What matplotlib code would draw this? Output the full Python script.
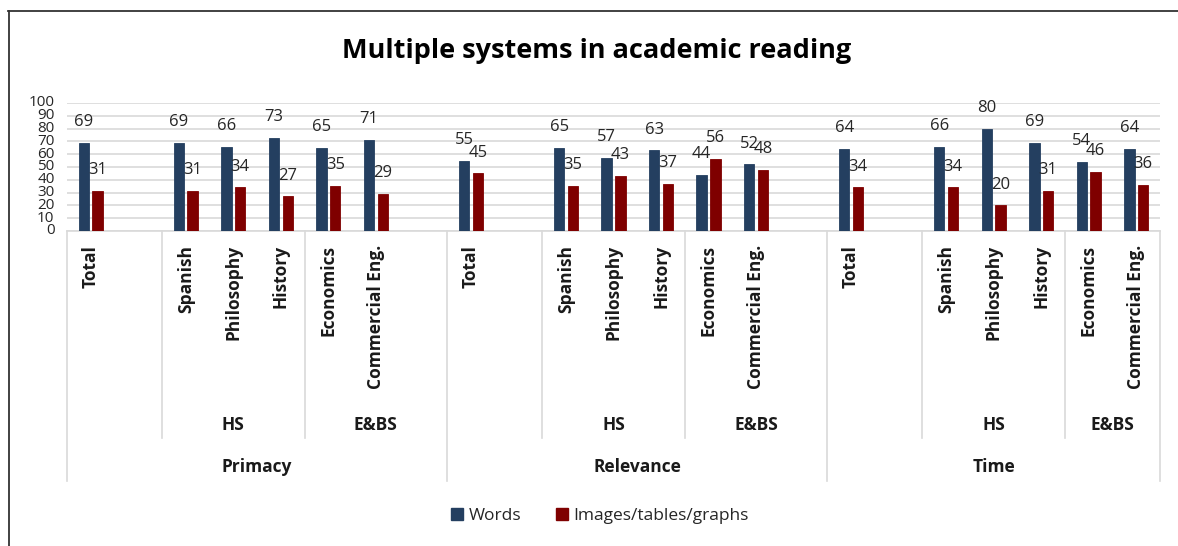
import matplotlib
matplotlib.use('Agg')
import matplotlib.pyplot as plt
import matplotlib.transforms as mtransforms
from matplotlib.lines import Line2D
from matplotlib.patches import Patch

plt.rcParams['font.family'] = ['Open Sans', 'DejaVu Sans']

# data
majors = ['Primacy', 'Relevance', 'Time']
subjects = ['Total', 'Spanish', 'Philosophy', 'History', 'Economics', 'Commercial Eng.']
subgroups = ['HS', 'E&BS']
words = {
    'Primacy':   [69, 69, 66, 73, 65, 71],
    'Relevance': [55, 65, 57, 63, 44, 52],
    'Time':      [64, 66, 80, 69, 54, 64],
}
images = {
    'Primacy':   [31, 31, 34, 27, 35, 29],
    'Relevance': [45, 35, 43, 37, 56, 48],
    'Time':      [34, 34, 20, 31, 46, 36],
}
yticks = list(range(0, 101, 10))

W, H = 1178, 546
fig = plt.figure(figsize=(W / 100, H / 100), dpi=100)

def fy(py):
    return 1 - py / H

x0, x1, ytop, ybot = 67, 1160, 103, 231
ax = fig.add_axes([x0 / W, fy(ybot), (x1 - x0) / W, (ybot - ytop) / H])

# slot layout: Total, blank, HS x3, E&BS x2 (+ blank except last group)
slots = [0, 2, 3, 4, 5, 6]
starts = [0, 8, 16]
nslots = 23
navy = '#243F60'
red = '#7F0000'
off, bw = 0.145, 0.22
txt = '#1a1a1a'

for g, m in enumerate(majors):
    for k, s in enumerate(slots):
        xc = starts[g] + s + 0.5
        for val, dx, col in [(words[m][k], -off, navy), (images[m][k], off, red)]:
            ax.bar(xc + dx, val, width=bw, color=col, edgecolor=col, linewidth=0.6, zorder=3)
            ax.annotate(str(val), (xc + dx, val), xytext=(0, 15), textcoords='offset points',
                        ha='center', va='center', fontsize=12, color='#262626', zorder=4)

ax.set_xlim(0, nslots)
ax.set_ylim(0, 100)
ax.set_yticks(yticks)
ax.set_xticks([])
ax.tick_params(axis='y', length=0, labelsize=11, labelcolor='#262626', pad=9)
for t in ax.get_yticklabels():
    t.set_verticalalignment('center')
ax.grid(axis='y', color='#D9D9D9', linewidth=1.2, zorder=0)
for sp in ax.spines.values():
    sp.set_visible(False)

# multi-level category axis
tr = mtransforms.blended_transform_factory(ax.transData, fig.transFigure)
gray = '#D9D9D9'
ax.add_line(Line2D([0, nslots], [fy(ybot), fy(ybot)], transform=tr, color=gray, lw=1.2, clip_on=False))
for b in [0, 8, 16, 23]:
    ax.add_line(Line2D([b, b], [fy(ybot), fy(481)], transform=tr, color=gray, lw=1.2, clip_on=False))
for b in [2, 5, 10, 13, 18, 21]:
    ax.add_line(Line2D([b, b], [fy(ybot), fy(438)], transform=tr, color=gray, lw=1.2, clip_on=False))

for g, m in enumerate(majors):
    for k, s in enumerate(slots):
        ax.text(starts[g] + s + 0.5, fy(245), subjects[k], transform=tr, rotation=90,
                ha='center', va='top', fontsize=12.5, fontweight='bold', color=txt)
    ax.text(starts[g] + 3.5, fy(425), subgroups[0], transform=tr, ha='center', va='center',
            fontsize=12.5, fontweight='bold', color=txt)
    end = 8 if g < 2 else 7
    ax.text(starts[g] + (5 + end) / 2, fy(425), subgroups[1], transform=tr, ha='center', va='center',
            fontsize=12.5, fontweight='bold', color=txt)
    ax.text(starts[g] + end / 2, fy(467), m, transform=tr, ha='center', va='center',
            fontsize=12.5, fontweight='bold', color=txt)

fig.text(597 / W, fy(51), 'Multiple systems in academic reading', ha='center', va='center',
         fontsize=19.5, fontweight='bold', color='#000000')

handles = [Patch(facecolor=navy, edgecolor=navy), Patch(facecolor=red, edgecolor=red)]
fig.legend(handles, ['Words', 'Images/tables/graphs'], loc='center', bbox_to_anchor=(600 / W, fy(516)),
           ncol=2, frameon=False, fontsize=12.5, handlelength=0.7, handleheight=0.7,
           handletextpad=0.3, columnspacing=2.0, labelcolor='#262626')

# frame edges (top and left)
fig.add_artist(Line2D([8 / W, 1], [fy(11), fy(11)], transform=fig.transFigure, color='#333333', lw=1.3))
fig.add_artist(Line2D([9 / W, 9 / W], [fy(11), 0], transform=fig.transFigure, color='#333333', lw=1.3))

fig.savefig('out.png', dpi=100, facecolor='white')
